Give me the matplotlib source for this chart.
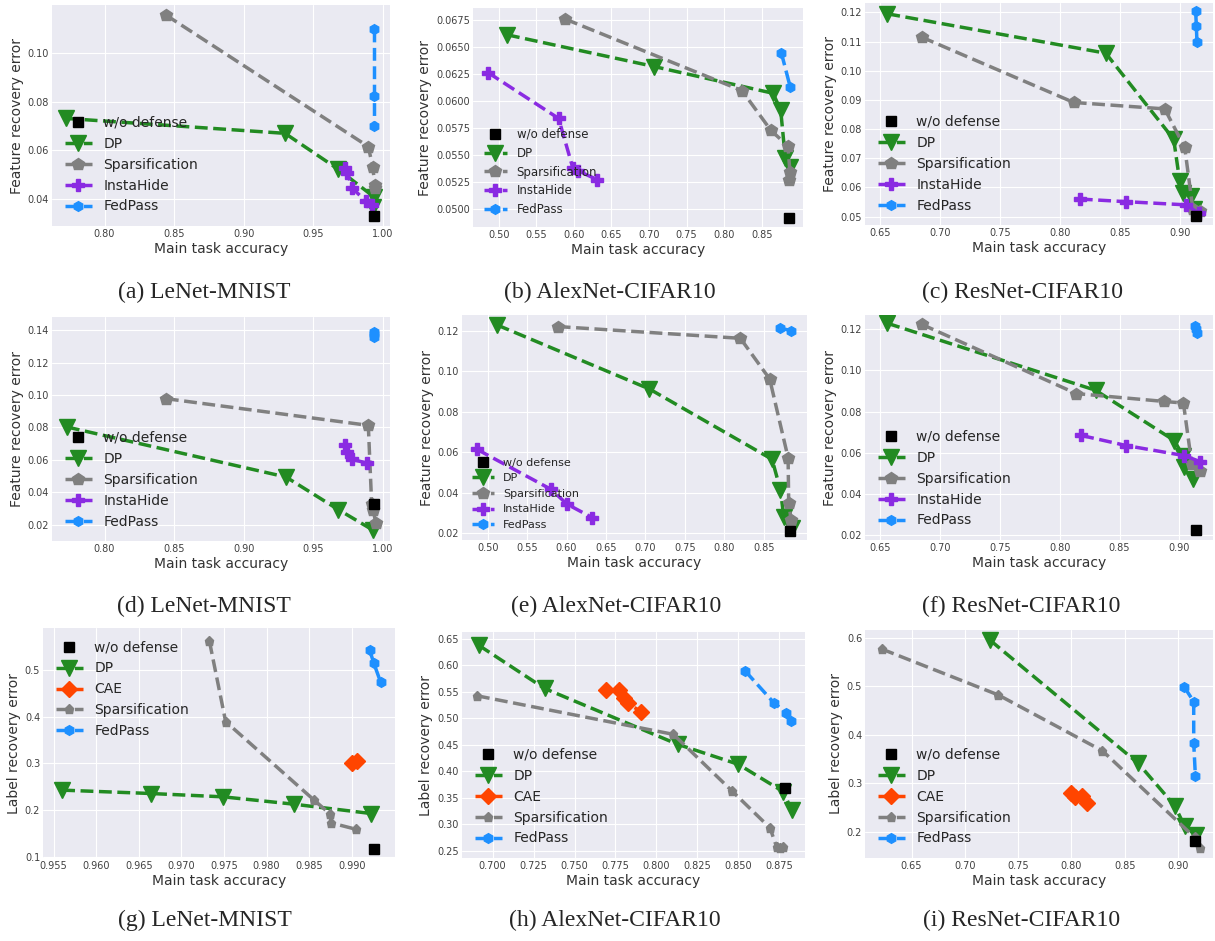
import matplotlib.pyplot as plt
from matplotlib.ticker import FormatStrFormatter
import numpy as np

plt.style.use('seaborn-v0_8-darkgrid')
plt.rcParams['font.family'] = 'DejaVu Sans'

# ---------------- data (accuracy, recovery error) ----------------
# (a) LeNet-MNIST, feature recovery
a_wo_x, a_wo_y = [0.9938], [0.0332]
a_dp_x = [0.7725, 0.9298, 0.9681, 0.9935, 0.9928]
a_dp_y = [0.0731, 0.0670, 0.0523, 0.0411, 0.0370]
a_sp_x = [0.8441, 0.9897, 0.9928, 0.9945, 0.9942]
a_sp_y = [0.1154, 0.0616, 0.0534, 0.0457, 0.0447]
a_ih_x = [0.9729, 0.9746, 0.9782, 0.9878, 0.9925]
a_ih_y = [0.0527, 0.0507, 0.0446, 0.0393, 0.0375]
a_fp_x = [0.9938, 0.9938, 0.9938]
a_fp_y = [0.1097, 0.0824, 0.0702]

# (b) AlexNet-CIFAR10, feature recovery
b_wo_x, b_wo_y = [0.8860], [0.04923]
b_dp_x = [0.5111, 0.7067, 0.8650, 0.8752, 0.8814, 0.8880]
b_dp_y = [0.06617, 0.06323, 0.06075, 0.05920, 0.05471, 0.05390]
b_sp_x = [0.5887, 0.8237, 0.8619, 0.8849, 0.8875, 0.8858]
b_sp_y = [0.06762, 0.06100, 0.05734, 0.05585, 0.05346, 0.05275]
b_ih_x = [0.4858, 0.5798, 0.5989, 0.6055, 0.6313]
b_ih_y = [0.06267, 0.05842, 0.05378, 0.05356, 0.05275]
b_fp_x = [0.8761, 0.8880]
b_fp_y = [0.0645, 0.0613]

# (c) ResNet-CIFAR10, feature recovery
c_wo_x, c_wo_y = [0.9139], [0.0502]
c_dp_x = [0.6561, 0.8383, 0.8950, 0.9000, 0.9030, 0.9095, 0.9120]
c_dp_y = [0.1195, 0.1060, 0.0765, 0.0622, 0.0582, 0.0572, 0.0525]
c_sp_x = [0.6847, 0.8117, 0.8875, 0.9042, 0.9110, 0.9170]
c_sp_y = [0.1115, 0.0891, 0.0869, 0.0737, 0.0525, 0.0518]
c_ih_x = [0.8167, 0.8550, 0.9056, 0.9158]
c_ih_y = [0.0560, 0.0551, 0.0540, 0.0511]
c_fp_x = [0.9133, 0.9139, 0.9144]
c_fp_y = [0.1206, 0.1154, 0.1100]

# (d) LeNet-MNIST, feature recovery
d_wo_x, d_wo_y = [0.9938], [0.0330]
d_dp_x = [0.7729, 0.9305, 0.9681, 0.9933]
d_dp_y = [0.0803, 0.0494, 0.0293, 0.0165]
d_sp_x = [0.8441, 0.9897, 0.9921, 0.9933, 0.9950]
d_sp_y = [0.0978, 0.0813, 0.0330, 0.0289, 0.0212]
d_ih_x = [0.9729, 0.9741, 0.9777, 0.9885]
d_ih_y = [0.0690, 0.0649, 0.0603, 0.0581]
d_fp_x = [0.9936, 0.9938, 0.9940]
d_fp_y = [0.1391, 0.1375, 0.1358]

# (e) AlexNet-CIFAR10, feature recovery
e_wo_x, e_wo_y = [0.8839], [0.0213]
e_dp_x = [0.5118, 0.7051, 0.8607, 0.8713, 0.8755, 0.8860]
e_dp_y = [0.1228, 0.0912, 0.0565, 0.0414, 0.0282, 0.0225]
e_sp_x = [0.5888, 0.8205, 0.8577, 0.8810, 0.8818, 0.8848]
e_sp_y = [0.1220, 0.1162, 0.0961, 0.0573, 0.0351, 0.0268]
e_ih_x = [0.4865, 0.5803, 0.6006, 0.6323]
e_ih_y = [0.0614, 0.0417, 0.0344, 0.0278]
e_fp_x = [0.8713, 0.8848]
e_fp_y = [0.1212, 0.1200]

# (f) ResNet-CIFAR10, feature recovery
f_wo_x, f_wo_y = [0.9139], [0.0226]
f_dp_x = [0.6561, 0.8300, 0.8958, 0.9028, 0.9042, 0.9110]
f_dp_y = [0.1228, 0.0903, 0.0659, 0.0586, 0.0530, 0.0475]
f_sp_x = [0.6847, 0.8139, 0.8870, 0.9033, 0.9103, 0.9172]
f_sp_y = [0.1223, 0.0887, 0.0849, 0.0841, 0.0546, 0.0513]
f_ih_x = [0.8180, 0.8556, 0.9042, 0.9172]
f_ih_y = [0.0684, 0.0635, 0.0586, 0.0557]
f_fp_x = [0.9128, 0.9136, 0.9144]
f_fp_y = [0.1215, 0.1200, 0.1183]

# (g) LeNet-MNIST, label recovery
g_wo_x, g_wo_y = [0.9926], [0.1179]
g_dp_x = [0.9560, 0.9664, 0.9749, 0.9832, 0.9923]
g_dp_y = [0.2429, 0.2357, 0.2286, 0.2129, 0.1929]
g_cae_x = [0.9900, 0.9906]
g_cae_y = [0.3014, 0.3055]
g_sp_x = [0.9733, 0.9752, 0.9856, 0.9874, 0.9876, 0.9905]
g_sp_y = [0.5607, 0.3893, 0.2214, 0.1929, 0.1729, 0.1593]
g_fp_x = [0.9921, 0.9926, 0.9934]
g_fp_y = [0.5429, 0.5143, 0.4736]

# (h) AlexNet-CIFAR10, label recovery
h_wo_x, h_wo_y = [0.8785], [0.3679]
h_dp_x = [0.6915, 0.7317, 0.8130, 0.8500, 0.8774, 0.8825]
h_dp_y = [0.6375, 0.5560, 0.4506, 0.4129, 0.3614, 0.3270]
h_cae_x = [0.7693, 0.7772, 0.7799, 0.7825, 0.7907]
h_cae_y = [0.5529, 0.5529, 0.5385, 0.5278, 0.5121]
h_sp_x = [0.6904, 0.8104, 0.8463, 0.8693, 0.8734, 0.8754, 0.8770]
h_sp_y = [0.5422, 0.4694, 0.3621, 0.2931, 0.2570, 0.2555, 0.2575]
h_fp_x = [0.8541, 0.8717, 0.8791, 0.8819]
h_fp_y = [0.5892, 0.5290, 0.5102, 0.4944]

# (i) ResNet-CIFAR10, label recovery
i_wo_x, i_wo_y = [0.9163], [0.1808]
i_dp_x = [0.7234, 0.8625, 0.8969, 0.9063, 0.9166]
i_dp_y = [0.5952, 0.3418, 0.2541, 0.2116, 0.1945]
i_cae_x = [0.7994, 0.8031, 0.8103, 0.8147]
i_cae_y = [0.2801, 0.2719, 0.2733, 0.2596]
i_sp_x = [0.6219, 0.7313, 0.8291, 0.9156, 0.9203]
i_sp_y = [0.5767, 0.4822, 0.3671, 0.1890, 0.1671]
i_fp_x = [0.9056, 0.9147, 0.9147, 0.9163]
i_fp_y = [0.4993, 0.4685, 0.3829, 0.3144]

# ---------------- styling ----------------
W, H = 1215, 941
fig = plt.figure(figsize=(W / 100, H / 100), dpi=100)

styles = {
    'w/o defense': dict(color='black', marker='s', ls='none', ms=7, zorder=5),
    'DP': dict(color='forestgreen', marker='v', ls='--', lw=2.5, ms=11),
    'CAE': dict(color='orangered', marker='D', ls='--', lw=2.5, ms=8),
    'Sparsification': dict(color='gray', marker='p', ls='--', lw=2.5, ms=9),
    'InstaHide': dict(color='blueviolet', marker='P', ls='--', lw=2.5, ms=8),
    'FedPass': dict(color='dodgerblue', marker='h', ls='--', lw=2.5, ms=7),
}


def panel(box, series, xlim, ylim, xticks, yticks, xfmt, yfmt, ylabel,
          leg_loc, leg_size, caption, cap_xy, small_sp=False):
    l, t, r, b = box
    ax = fig.add_axes([l / W, 1 - b / H, (r - l) / W, (b - t) / H])
    for name, xs, ys in series:
        st = dict(styles[name])
        if small_sp and name == 'Sparsification':
            st['ms'] = 6.5
        ax.plot(xs, ys, label=name, **st)
    ax.set_xlim(*xlim)
    ax.set_ylim(*ylim)
    ax.set_xticks(xticks)
    ax.set_yticks(yticks)
    ax.xaxis.set_major_formatter(FormatStrFormatter(xfmt))
    ax.yaxis.set_major_formatter(FormatStrFormatter(yfmt))
    ax.tick_params(labelsize=7, colors='0.25', pad=2)
    ax.set_xlabel('Main task accuracy', fontsize=10, color='0.2', labelpad=2)
    ax.set_ylabel(ylabel, fontsize=10, color='0.2', labelpad=3)
    ax.legend(loc=leg_loc, fontsize=leg_size, frameon=False, numpoints=1)
    fig.text(cap_xy[0] / W, 1 - cap_xy[1] / H, caption, ha='center',
             va='center', family='Liberation Serif', fontsize=17)
    return ax


feat = 'Feature recovery error'
lab = 'Label recovery error'
acc5 = np.arange(0.80, 1.001, 0.05)
alex_x = np.arange(0.50, 0.851, 0.05)
res_x = np.arange(0.65, 0.901, 0.05)

panel((52, 5, 390, 226),
      [('w/o defense', a_wo_x, a_wo_y), ('DP', a_dp_x, a_dp_y),
       ('Sparsification', a_sp_x, a_sp_y), ('InstaHide', a_ih_x, a_ih_y),
       ('FedPass', a_fp_x, a_fp_y)],
      (0.7622, 1.0053), (0.0291, 0.1195), acc5, np.arange(0.04, 0.101, 0.02),
      '%.2f', '%.2f', feat, 'lower left', 10, '(a) LeNet-MNIST', (204, 292))

panel((473, 8, 803, 227),
      [('w/o defense', b_wo_x, b_wo_y), ('DP', b_dp_x, b_dp_y),
       ('Sparsification', b_sp_x, b_sp_y), ('InstaHide', b_ih_x, b_ih_y),
       ('FedPass', b_fp_x, b_fp_y)],
      (0.4659, 0.9049), (0.04836, 0.06865), alex_x,
      np.arange(0.05, 0.06751, 0.0025),
      '%.2f', '%.4f', feat, 'lower left', 8.5, '(b) AlexNet-CIFAR10', (610, 292))

panel((865, 3, 1213, 225),
      [('w/o defense', c_wo_x, c_wo_y), ('DP', c_dp_x, c_dp_y),
       ('Sparsification', c_sp_x, c_sp_y), ('InstaHide', c_ih_x, c_ih_y),
       ('FedPass', c_fp_x, c_fp_y)],
      (0.6375, 0.9278), (0.0471, 0.1232), res_x, np.arange(0.05, 0.1201, 0.01),
      '%.2f', '%.2f', feat, 'lower left', 10, '(c) ResNet-CIFAR10', (1022, 292))

panel((52, 317, 390, 541),
      [('w/o defense', d_wo_x, d_wo_y), ('DP', d_dp_x, d_dp_y),
       ('Sparsification', d_sp_x, d_sp_y), ('InstaHide', d_ih_x, d_ih_y),
       ('FedPass', d_fp_x, d_fp_y)],
      (0.7622, 1.0053), (0.0099, 0.1482), acc5, np.arange(0.02, 0.141, 0.02),
      '%.2f', '%.2f', feat, 'lower left', 10, '(d) LeNet-MNIST', (204, 606))

panel((462, 315, 807, 540),
      [('w/o defense', e_wo_x, e_wo_y), ('DP', e_dp_x, e_dp_y),
       ('Sparsification', e_sp_x, e_sp_y), ('InstaHide', e_ih_x, e_ih_y),
       ('FedPass', e_fp_x, e_fp_y)],
      (0.4674, 0.905), (0.0167, 0.1277), alex_x, np.arange(0.02, 0.121, 0.02),
      '%.2f', '%.2f', feat, 'lower left', 8, '(e) AlexNet-CIFAR10', (616, 606))

panel((865, 315, 1213, 540),
      [('w/o defense', f_wo_x, f_wo_y), ('DP', f_dp_x, f_dp_y),
       ('Sparsification', f_sp_x, f_sp_y), ('InstaHide', f_ih_x, f_ih_y),
       ('FedPass', f_fp_x, f_fp_y)],
      (0.6375, 0.928), (0.0177, 0.1268), res_x, np.arange(0.02, 0.121, 0.02),
      '%.2f', '%.2f', feat, 'lower left', 10, '(f) ResNet-CIFAR10', (1021, 606))

panel((43, 628, 395, 858),
      [('w/o defense', g_wo_x, g_wo_y), ('DP', g_dp_x, g_dp_y),
       ('CAE', g_cae_x, g_cae_y), ('Sparsification', g_sp_x, g_sp_y),
       ('FedPass', g_fp_x, g_fp_y)],
      (0.95375, 0.99509), (0.0979, 0.5893), np.arange(0.955, 0.9901, 0.005),
      np.arange(0.1, 0.501, 0.1),
      '%.3f', '%.1f', lab, 'upper left', 10, '(g) LeNet-MNIST', (205, 920),
      small_sp=True)

panel((462, 632, 805, 858),
      [('w/o defense', h_wo_x, h_wo_y), ('DP', h_dp_x, h_dp_y),
       ('CAE', h_cae_x, h_cae_y), ('Sparsification', h_sp_x, h_sp_y),
       ('FedPass', h_fp_x, h_fp_y)],
      (0.6813, 0.8907), (0.2362, 0.6625), np.arange(0.700, 0.8751, 0.025),
      np.arange(0.25, 0.651, 0.05),
      '%.3f', '%.2f', lab, 'lower left', 10, '(h) AlexNet-CIFAR10', (615, 920),
      small_sp=True)

panel((865, 630, 1213, 858),
      [('w/o defense', i_wo_x, i_wo_y), ('DP', i_dp_x, i_dp_y),
       ('CAE', i_cae_x, i_cae_y), ('Sparsification', i_sp_x, i_sp_y),
       ('FedPass', i_fp_x, i_fp_y)],
      (0.60625, 0.9328), (0.1466, 0.6158), res_x, np.arange(0.2, 0.601, 0.1),
      '%.2f', '%.1f', lab, 'lower left', 10, '(i) ResNet-CIFAR10', (1022, 920),
      small_sp=True)

fig.savefig('out.png', dpi=100, facecolor='white')
